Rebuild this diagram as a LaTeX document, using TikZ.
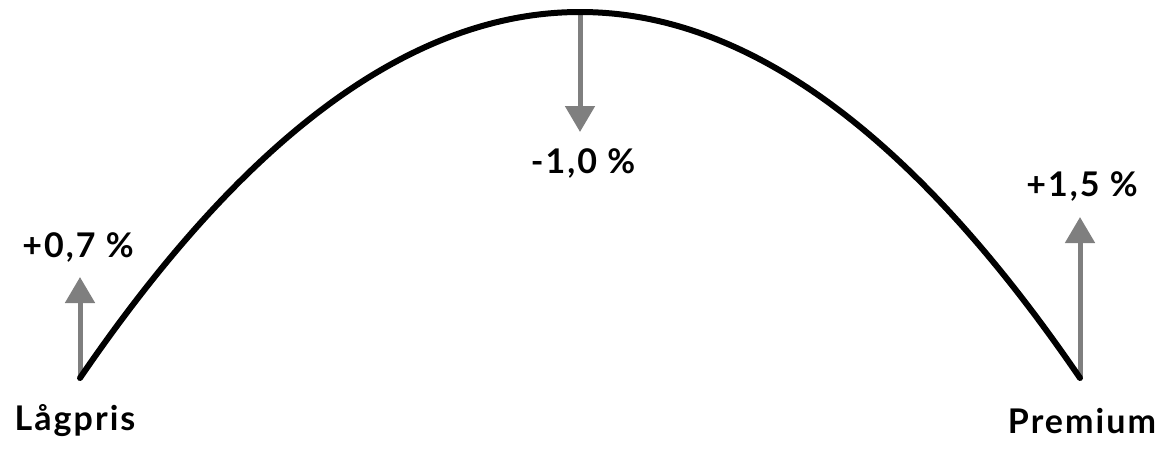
\documentclass[tikz,border=0pt]{standalone}
\usepackage{fontspec}
\setmainfont{Lato}[UprightFont=* Bold, LetterSpace=6]
\usetikzlibrary{arrows.meta}
\definecolor{arrowgray}{HTML}{7F7F7F}
\tikzset{
  lbl/.style={font=\fontsize{34}{38}\selectfont, inner sep=0pt, anchor=center},
  gain/.style={draw=arrowgray, line width=5pt, -{Triangle[width=29pt,length=26pt]}, arrowgray},
}
\begin{document}
\begin{tikzpicture}[x=1pt,y=-1pt]
\useasboundingbox (0,0) rectangle (1162,448);
\coordinate (L) at (80,378);
\coordinate (T) at (580,12);
\coordinate (R) at (1080,378);
\coordinate (Lt) at (80,277);
\coordinate (Tt) at (580,132);
\coordinate (Rt) at (1080,217);
\draw[gain] (L) -- (Lt);
\draw[gain] (T) -- (Tt);
\draw[gain] (R) -- (Rt);
\draw[line width=6pt, line cap=round] (L) .. controls (413.3,-110) and (746.7,-110) .. (R);
\node[lbl] (lp) at (78,247) {+0,7 \%};
\node[lbl] (mp) at (583,163) {-1,0 \%};
\node[lbl] (rp) at (1082,186) {+1,5 \%};
\node[lbl] (low) at (75,421) {Lågpris};
\node[lbl] (prem) at (1082,421) {Premium};
\end{tikzpicture}
\end{document}
